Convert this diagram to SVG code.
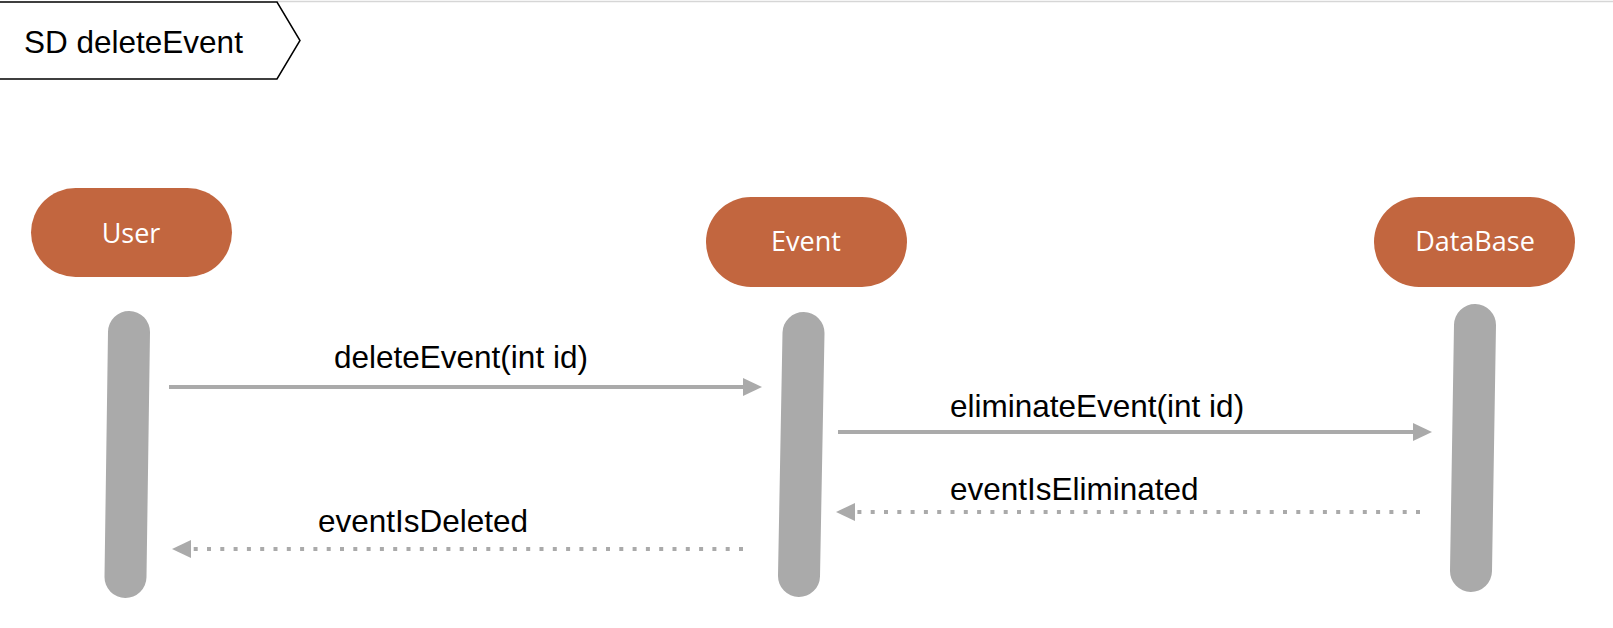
<svg xmlns="http://www.w3.org/2000/svg" width="1613" height="628" viewBox="0 0 1613 628">
  <defs>
    <style>
      .node { fill: #C2663F; }
      .nlabel { font-family: "Open Sans", "Noto Sans", sans-serif; font-size: 27px; fill: #FFFFFF; text-anchor: middle; }
      .bar { stroke: #AAAAAA; stroke-width: 42; stroke-linecap: round; fill: none; }
      .msg { stroke: #AAAAAA; stroke-width: 4; fill: none; }
      .ret { stroke: #AAAAAA; stroke-width: 4; fill: none; stroke-dasharray: 4 9.3; }
      .head { fill: #AAAAAA; }
      .mlabel { font-family: "Liberation Sans", Arial, sans-serif; font-size: 31.5px; fill: #000000; }
    </style>
  </defs>
  <rect x="0" y="0" width="1613" height="628" fill="#FFFFFF"/>
  <line x1="277" y1="1.5" x2="1613" y2="1.5" stroke="#D6D6D6" stroke-width="1.5"/>

  <g id="frame">
    <polygon points="-2,2 277,2 300,40.5 277,79 -2,79" fill="#FFFFFF" stroke="#000000" stroke-width="1.5"/>
    <text class="mlabel" x="24" y="53">SD deleteEvent</text>
  </g>

  <g id="user">
    <rect class="node" x="31" y="188" width="201" height="89" rx="44.5" ry="44.5"/>
    <text class="nlabel" x="131" y="243">User</text>
    <line class="bar" x1="129" y1="332" x2="125.5" y2="577"/>
  </g>

  <g id="event">
    <rect class="node" x="706" y="197" width="201" height="90" rx="45" ry="45"/>
    <text class="nlabel" x="806" y="251">Event</text>
    <line class="bar" x1="803.5" y1="333" x2="799" y2="576"/>
  </g>

  <g id="database">
    <rect class="node" x="1374" y="197" width="201" height="90" rx="45" ry="45"/>
    <text class="nlabel" x="1475" y="251">DataBase</text>
    <line class="bar" x1="1475" y1="325" x2="1471" y2="571"/>
  </g>

  <g id="connectors">
    <line class="msg" x1="169" y1="387" x2="745" y2="387"/>
    <polygon class="head" points="743,378 762,387 743,396"/>
    <text class="mlabel" x="334" y="368">deleteEvent(int id)</text>

    <line class="msg" x1="838" y1="432" x2="1415" y2="432"/>
    <polygon class="head" points="1413,423 1432,432 1413,441"/>
    <text class="mlabel" x="950" y="417">eliminateEvent(int id)</text>

    <line class="ret" x1="1420" y1="512" x2="856" y2="512"/>
    <polygon class="head" points="855,503 836,512 855,521"/>
    <text class="mlabel" x="950" y="500">eventIsEliminated</text>

    <line class="ret" x1="743" y1="549" x2="193" y2="549"/>
    <polygon class="head" points="191,540 172,549 191,558"/>
    <text class="mlabel" x="318" y="532">eventIsDeleted</text>
  </g>
</svg>
